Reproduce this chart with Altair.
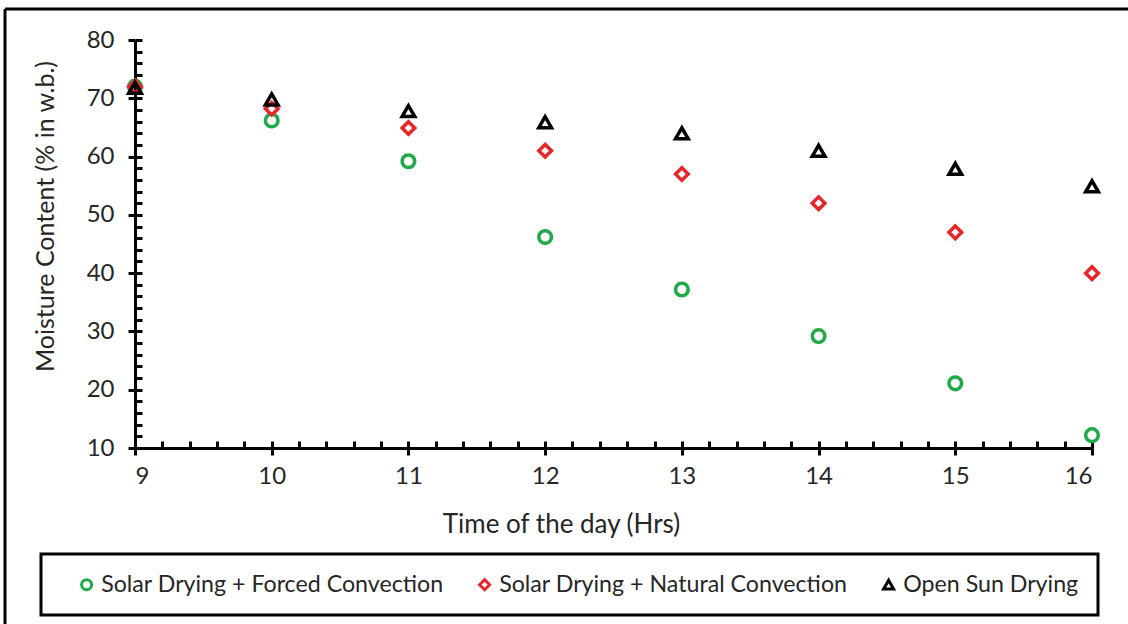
import altair as alt
import pandas as pd

hours = [9, 10, 11, 12, 13, 14, 15, 16]
forced = [72, 66.2, 59.2, 46.2, 37.2, 29.2, 21.1, 12.2]
natural = [72, 68.2, 64.9, 61, 57, 52, 47, 40]
open_sun = [71.8, 69.8, 67.8, 65.9, 64, 61, 57.9, 54.9]
series_names = ["Solar Drying + Forced Convection",
                "Solar Drying + Natural Convection",
                "Open Sun Drying"]
colors = ["#1FAA48", "#E8262A", "#000000"]
shapes = ["circle", "diamond", "triangle-up"]
y_major = [10, 20, 30, 40, 50, 60, 70, 80]
y_minor = [10 + 2 * i for i in range(36)]
x_major = hours
x_minor = [round(9 + 0.2 * i, 1) for i in range(36)]

rows = []
for name, vals in zip(series_names, [forced, natural, open_sun]):
    for h, v in zip(hours, vals):
        rows.append({"Time": h, "Moisture": v, "Series": name})
df = pd.DataFrame(rows)

FONT = "Lato"
TXT = "#262626"
W, H = 957, 408

xscale = alt.Scale(domain=[9, 16], nice=False, zero=False)
yscale = alt.Scale(domain=[10, 80], nice=False, zero=False)

base = alt.Chart(df)

points = base.mark_point(filled=False, strokeWidth=3.5, size=160, opacity=1).encode(
    x=alt.X("Time:Q", scale=xscale,
            axis=alt.Axis(orient="bottom", values=x_major, tickSize=7, tickWidth=3,
                          domainWidth=3, domainColor="black", tickColor="black",
                          labelFontSize=24, labelFont=FONT, labelColor=TXT,
                          labelPadding=9, grid=False,
                          title="Time of the day (Hrs)", titleFont=FONT,
                          titleFontSize=26, titleFontWeight="normal", titleColor=TXT,
                          titleX=426, titleY=76, titleBaseline="middle",
                          titleAlign="center", titleAnchor="start")),
    y=alt.Y("Moisture:Q", scale=yscale,
            axis=alt.Axis(orient="left", values=y_major, tickSize=7, tickWidth=3,
                          domainWidth=3, domainColor="black", tickColor="black",
                          labelFontSize=24, labelFont=FONT, labelColor=TXT,
                          labelPadding=14, grid=False,
                          title="Moisture Content (% in w.b.)", titleFont=FONT,
                          titleFontSize=25, titleFontWeight="normal", titleColor=TXT,
                          titleX=-90, titleY=176, titleAngle=270,
                          titleBaseline="middle", titleAlign="center",
                          titleAnchor="start")),
    color=alt.Color("Series:N", scale=alt.Scale(domain=series_names, range=colors),
                    legend=alt.Legend(title=None, orient="none", direction="horizontal",
                                      legendX=-94, legendY=514, padding=19,
                                      symbolOffset=15, strokeColor="black",
                                      labelFont=FONT, labelFontSize=23.2,
                                      labelColor=TXT, columnPadding=14,
                                      labelOffset=3, symbolSize=100,
                                      symbolFillColor="white",
                                      symbolStrokeWidth=3, labelLimit=500)),
    shape=alt.Shape("Series:N", scale=alt.Scale(domain=series_names, range=shapes),
                    legend=None),
)

minor = base.mark_point(opacity=0).encode(
    x=alt.X("Time:Q", scale=xscale,
            axis=alt.Axis(orient="bottom", values=x_minor, tickSize=7, tickWidth=3,
                          tickColor="black", domain=False, labels=False, grid=False,
                          offset=-7, title=None)),
    y=alt.Y("Moisture:Q", scale=yscale,
            axis=alt.Axis(orient="left", values=y_minor, tickSize=7, tickWidth=3,
                          tickColor="black", domain=False, labels=False, grid=False,
                          offset=-7, title=None)),
)

border_data = alt.Data(values=[{"a": 1}])
border_top = alt.Chart(border_data).mark_rule(color="black", strokeWidth=3).encode(
    x=alt.value(-130), x2=alt.value(1000), y=alt.value(-31))
border_left = alt.Chart(border_data).mark_rule(color="black", strokeWidth=3).encode(
    x=alt.value(-130), y=alt.value(-31), y2=alt.value(600))

chart = alt.layer(minor, points, border_top, border_left).resolve_axis(
    x="independent", y="independent"
).properties(
    width=W, height=H,
    autosize=alt.AutoSizeParams(type="none"),
    padding={"left": 135, "top": 40, "right": 36, "bottom": 176},
).configure_view(stroke=None).configure_legend(strokeWidth=3)

chart.save("out.html", embed_options={"renderer": "svg", "actions": False})
